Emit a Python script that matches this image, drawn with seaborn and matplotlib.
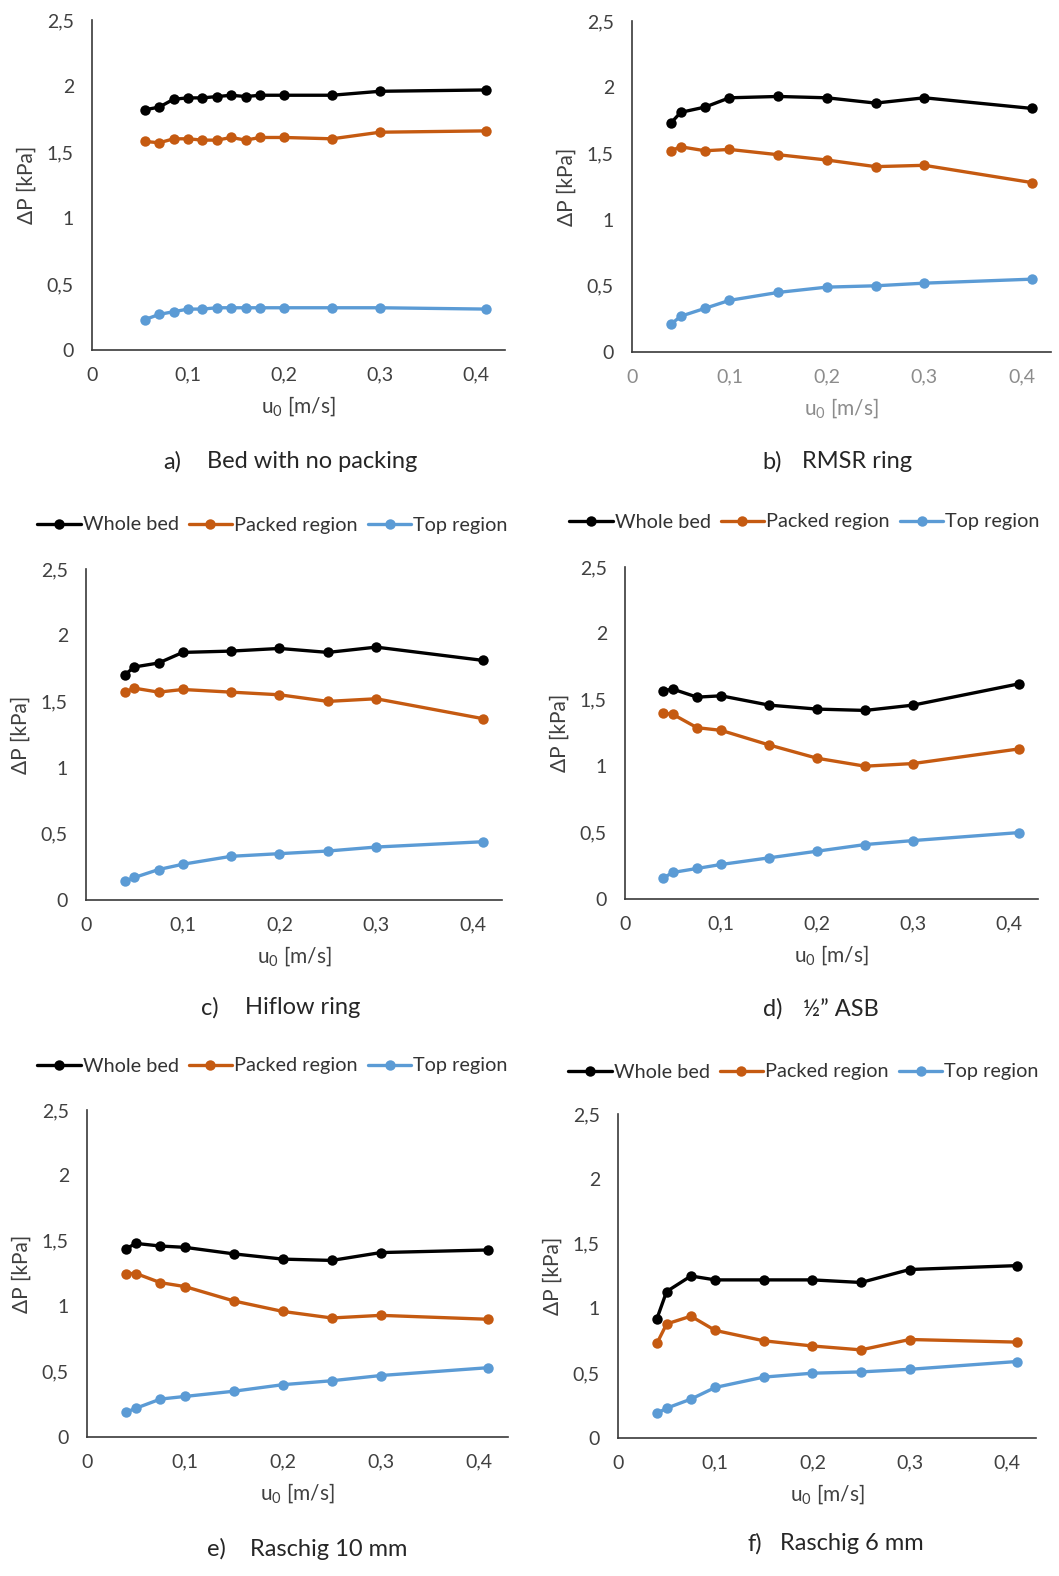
import matplotlib
matplotlib.use("Agg")
import matplotlib.pyplot as plt
import pandas as pd
import seaborn as sns

W, H = 1059, 1576

SERIES = ["Whole bed", "Packed region", "Top region"]
COLORS = {"Whole bed": "#000000", "Packed region": "#C55A11", "Top region": "#5B9BD5"}

XTICKS = [0, 0.1, 0.2, 0.3, 0.4]
XTICK_LABELS = ["0", "0,1", "0,2", "0,3", "0,4"]
YTICKS = [0, 0.5, 1, 1.5, 2, 2.5]
YTICK_LABELS = ["0", "0,5", "1", "1,5", "2", "2,5"]

# a) Bed with no packing
a_u0 = [0.055, 0.07, 0.085, 0.1, 0.115, 0.13, 0.145, 0.16, 0.175, 0.2, 0.25, 0.3, 0.41]
a_whole = [1.82, 1.84, 1.90, 1.91, 1.91, 1.92, 1.93, 1.92, 1.93, 1.93, 1.93, 1.96, 1.97]
a_packed = [1.58, 1.57, 1.60, 1.60, 1.59, 1.59, 1.61, 1.59, 1.61, 1.61, 1.60, 1.65, 1.66]
a_top = [0.23, 0.27, 0.29, 0.31, 0.31, 0.32, 0.32, 0.32, 0.32, 0.32, 0.32, 0.32, 0.31]

# b) RMSR ring
b_u0 = [0.04, 0.05, 0.075, 0.1, 0.15, 0.2, 0.25, 0.3, 0.41]
b_whole = [1.73, 1.81, 1.85, 1.92, 1.93, 1.92, 1.88, 1.92, 1.84]
b_packed = [1.52, 1.55, 1.52, 1.53, 1.49, 1.45, 1.40, 1.41, 1.28]
b_top = [0.21, 0.27, 0.33, 0.39, 0.45, 0.49, 0.50, 0.52, 0.55]

# c) Hiflow ring
c_u0 = [0.04, 0.05, 0.075, 0.1, 0.15, 0.2, 0.25, 0.3, 0.41]
c_whole = [1.70, 1.76, 1.79, 1.87, 1.88, 1.90, 1.87, 1.91, 1.81]
c_packed = [1.57, 1.60, 1.57, 1.59, 1.57, 1.55, 1.50, 1.52, 1.37]
c_top = [0.14, 0.17, 0.23, 0.27, 0.33, 0.35, 0.37, 0.40, 0.44]

# d) 1/2" ASB
d_u0 = [0.04, 0.05, 0.075, 0.1, 0.15, 0.2, 0.25, 0.3, 0.41]
d_whole = [1.57, 1.58, 1.52, 1.53, 1.46, 1.43, 1.42, 1.46, 1.62]
d_packed = [1.40, 1.39, 1.29, 1.27, 1.16, 1.06, 1.00, 1.02, 1.13]
d_top = [0.16, 0.20, 0.23, 0.26, 0.31, 0.36, 0.41, 0.44, 0.50]

# e) Raschig 10 mm
e_u0 = [0.04, 0.05, 0.075, 0.1, 0.15, 0.2, 0.25, 0.3, 0.41]
e_whole = [1.44, 1.48, 1.46, 1.45, 1.40, 1.36, 1.35, 1.41, 1.43]
e_packed = [1.25, 1.25, 1.18, 1.15, 1.04, 0.96, 0.91, 0.93, 0.90]
e_top = [0.19, 0.22, 0.29, 0.31, 0.35, 0.40, 0.43, 0.47, 0.53]

# f) Raschig 6 mm
f_u0 = [0.04, 0.05, 0.075, 0.1, 0.15, 0.2, 0.25, 0.3, 0.41]
f_whole = [0.92, 1.13, 1.25, 1.22, 1.22, 1.22, 1.20, 1.30, 1.33]
f_packed = [0.73, 0.88, 0.94, 0.83, 0.75, 0.71, 0.68, 0.76, 0.74]
f_top = [0.19, 0.23, 0.30, 0.39, 0.47, 0.50, 0.51, 0.53, 0.59]

CAPTIONS = [("a)", "Bed with no packing"), ("b)", "RMSR ring"), ("c)", "Hiflow ring"),
            ("d)", "\u00bd\u201d ASB"), ("e)", "Raschig 10 mm"), ("f)", "Raschig 6 mm")]


def to_long(u0, whole, packed, top):
    rows = []
    for name, vals in zip(SERIES, [whole, packed, top]):
        for x, y in zip(u0, vals):
            rows.append({"u0": x, "dP": y, "series": name})
    return pd.DataFrame(rows)


sns.set_theme(style="white")
plt.rcParams["font.family"] = ["Lato", "DejaVu Sans"]
plt.rcParams["mathtext.fontset"] = "custom"
plt.rcParams["mathtext.rm"] = "Lato"
plt.rcParams["mathtext.default"] = "regular"

fig = plt.figure(figsize=(W / 100, H / 100), dpi=100)

# pixel boxes: left, top, right, bottom; caption pos; legend pos
panels = [
    dict(data=to_long(a_u0, a_whole, a_packed, a_top), box=(92, 20, 505, 350),
         cap=(163, 207, 462), leg=None, light=False),
    dict(data=to_long(b_u0, b_whole, b_packed, b_top), box=(632, 21, 1051, 352),
         cap=(762, 802, 462), leg=None, light=True),
    dict(data=to_long(c_u0, c_whole, c_packed, c_top), box=(86, 569, 502, 900),
         cap=(201, 245, 1008), leg=(37, 525), light=False),
    dict(data=to_long(d_u0, d_whole, d_packed, d_top), box=(625, 567, 1038, 899),
         cap=(763, 803, 1009), leg=(569, 522), light=False),
    dict(data=to_long(e_u0, e_whole, e_packed, e_top), box=(87, 1110, 508, 1437),
         cap=(207, 250, 1549), leg=(37, 1066), light=False),
    dict(data=to_long(f_u0, f_whole, f_packed, f_top), box=(618, 1114, 1036, 1438),
         cap=(747, 780, 1544), leg=(568, 1072), light=False),
]

for p, (tag, title) in zip(panels, CAPTIONS):
    l, t, r, b = p["box"]
    ax = fig.add_axes([l / W, 1 - b / H, (r - l) / W, (b - t) / H])
    sns.lineplot(data=p["data"], x="u0", y="dP", hue="series", hue_order=SERIES,
                 palette=COLORS, marker="o", markersize=7.5, markeredgewidth=0,
                 linewidth=2.4, errorbar=None, legend=False, ax=ax)
    ax.set_xlim(0, 0.43)
    ax.set_ylim(0, 2.5)
    ax.set_xticks(XTICKS)
    ax.set_xticklabels(XTICK_LABELS)
    ax.set_yticks(YTICKS)
    ax.set_yticklabels(YTICK_LABELS)
    xcol = "#8c8c8c" if p["light"] else "#404040"
    ax.tick_params(axis="x", length=0, pad=12, labelsize=14, labelcolor=xcol)
    ax.tick_params(axis="y", length=0, pad=13, labelsize=14, labelcolor="#404040")
    for s in ["top", "right"]:
        ax.spines[s].set_visible(False)
    for s in ["left", "bottom"]:
        ax.spines[s].set_color("#3a3a3a")
        ax.spines[s].set_linewidth(1.2)
    ax.set_xlabel("u$_0$ [m/s]", fontsize=15, color=xcol)
    ax.set_ylabel("\u0394P [kPa]", fontsize=15, color="#404040")
    ax.xaxis.set_label_coords(0.5, -44 / (b - t))
    ax.yaxis.set_label_coords(-55 / (r - l), 0.5)

    if p["leg"] is not None:
        lx, ly = p["leg"]
        fig.legend(ax.get_lines()[:3], SERIES, loc="center left",
                   bbox_to_anchor=(lx / W, 1 - ly / H), ncol=3, frameon=False,
                   fontsize=14.3, handlelength=2.2, handletextpad=0.1,
                   columnspacing=0.5, borderpad=0, borderaxespad=0,
                   labelcolor="#333333")

    x1, x2, cy = p["cap"]
    fig.text(x1 / W, 1 - cy / H, tag, fontsize=17, color="#262626", va="center")
    fig.text(x2 / W, 1 - cy / H, title, fontsize=17, color="#262626", va="center")

fig.savefig("out.png", dpi=100)
